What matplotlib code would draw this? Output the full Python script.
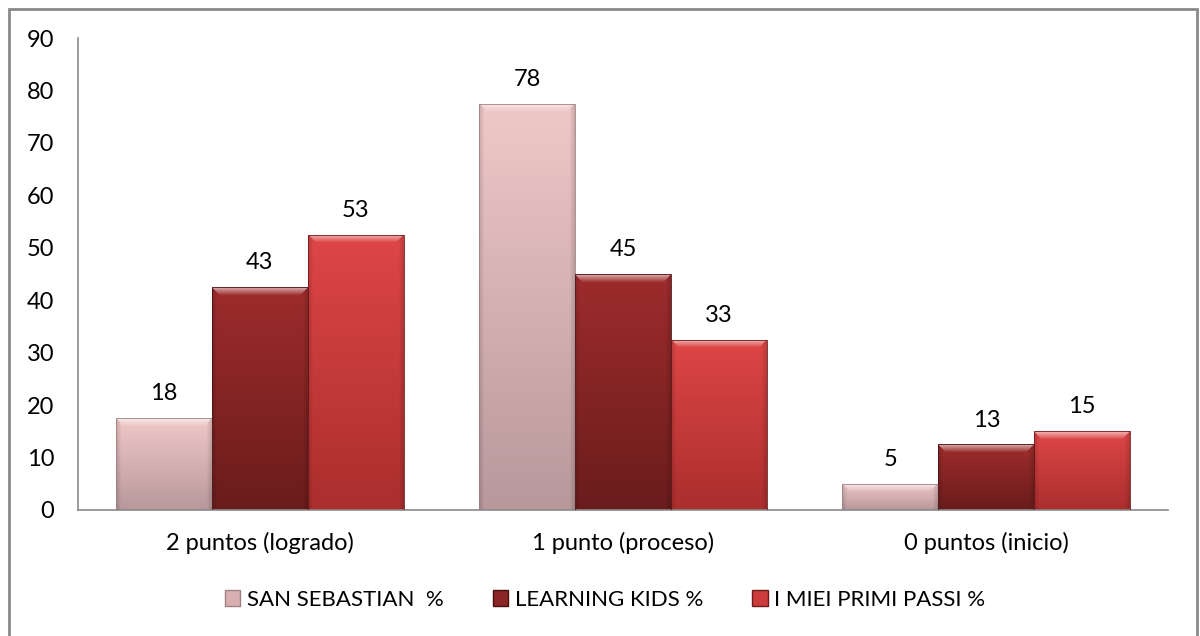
import matplotlib
matplotlib.use('Agg')
from matplotlib import pyplot as plt
from matplotlib.patches import Rectangle, Patch
import numpy as np

# datos del gráfico
categorias = ['2 puntos (logrado)', '1 punto (proceso)', '0 puntos (inicio)']
series = ['SAN SEBASTIAN  %', 'LEARNING KIDS %', 'I MIEI PRIMI PASSI %']
san_sebastian = [17.5, 77.5, 5]
learning_kids = [42.5, 45, 12.5]
primi_passi = [52.5, 32.5, 15]
valores = [san_sebastian, learning_kids, primi_passi]

# colores (arriba, abajo) de cada serie
colores = [('#f0c8c8', '#b8989b'), ('#9e2c2c', '#6a1c1c'), ('#de4646', '#ab2e2e')]
bordes = ['#a08080', '#4a1010', '#6e1a1a']
leyenda_col = ['#d8b0b2', '#8a2626', '#cc3c3c']

plt.rcParams['font.family'] = ['Lato', 'DejaVu Sans']

fig = plt.figure(figsize=(12, 6.36), dpi=100)
# marco exterior del gráfico
fig.patches.append(Rectangle((9 / 1200, -0.05), 1188 / 1200, 1.05 - 9 / 636,
                             transform=fig.transFigure, fill=False,
                             edgecolor='#8a8a8a', linewidth=2))
ax = fig.add_axes([78 / 1200, 1 - 510 / 636, 1090 / 1200, 472 / 636])

x = np.arange(len(categorias))
ancho = 0.264
px_por_unidad = 472 / 90


def hex_rgb(c):
    return np.array([int(c[i:i + 2], 16) / 255 for i in (1, 3, 5)])


def gradiente(top, bottom, n, m=96):
    # degradado vertical con bisel en píxeles
    t = np.linspace(0, 1, n)[:, None, None]
    img = hex_rgb(top) * (1 - t) + hex_rgb(bottom) * t
    img = np.repeat(img, m, axis=1)
    b = min(8, n // 2)
    for k in range(b):
        a = 0.6 * (1 - k / b)
        img[k, k:m - k, :] = img[k, k:m - k, :] * (1 - a) + a
    for k in range(5):
        f = 0.86 + 0.028 * k
        img[k:, k, :] *= f
        img[k:, m - 1 - k, :] *= f
    return np.clip(img, 0, 1)


for i, serie in enumerate(valores):
    pos = x + (i - 1) * ancho
    barras = ax.bar(pos, serie, width=ancho, color='none', edgecolor=bordes[i],
                    linewidth=0.6, zorder=3)
    for b, v in zip(barras, serie):
        n = max(int(round(v * px_por_unidad)), 4)
        im = ax.imshow(gradiente(*colores[i], n), extent=[b.get_x(), b.get_x() + ancho, 0, v],
                       aspect='auto', zorder=2, interpolation='nearest')
        im.set_clip_path(b)
        ax.annotate(str(int(v + 0.5)), (b.get_x() + ancho / 2, v), xytext=(0, 10),
                    textcoords='offset points', ha='center', va='bottom', fontsize=17)

ax.set_xlim(-0.5, 2.5)
ax.set_ylim(0, 90)
ax.set_yticks(range(0, 91, 10))
ax.set_xticks(x)
ax.set_xticklabels(categorias)
ax.tick_params(length=0, labelsize=17)
ax.tick_params(axis='y', pad=17)
ax.tick_params(axis='x', pad=16)
for s in ['top', 'right']:
    ax.spines[s].set_visible(False)
ax.spines['left'].set_color('#8a8a8a')
ax.spines['bottom'].set_color('#8a8a8a')
ax.spines['left'].set_linewidth(1.2)
ax.spines['bottom'].set_linewidth(1.2)

handles = [Patch(facecolor=leyenda_col[i], edgecolor=bordes[i]) for i in range(3)]
fig.legend(handles, series, loc='center', bbox_to_anchor=(605 / 1200, 1 - 600 / 636), ncol=3,
           frameon=False, fontsize=16, handlelength=0.7, handleheight=0.7,
           handletextpad=0.3, columnspacing=2.2)

plt.savefig('out.png', dpi=100)
